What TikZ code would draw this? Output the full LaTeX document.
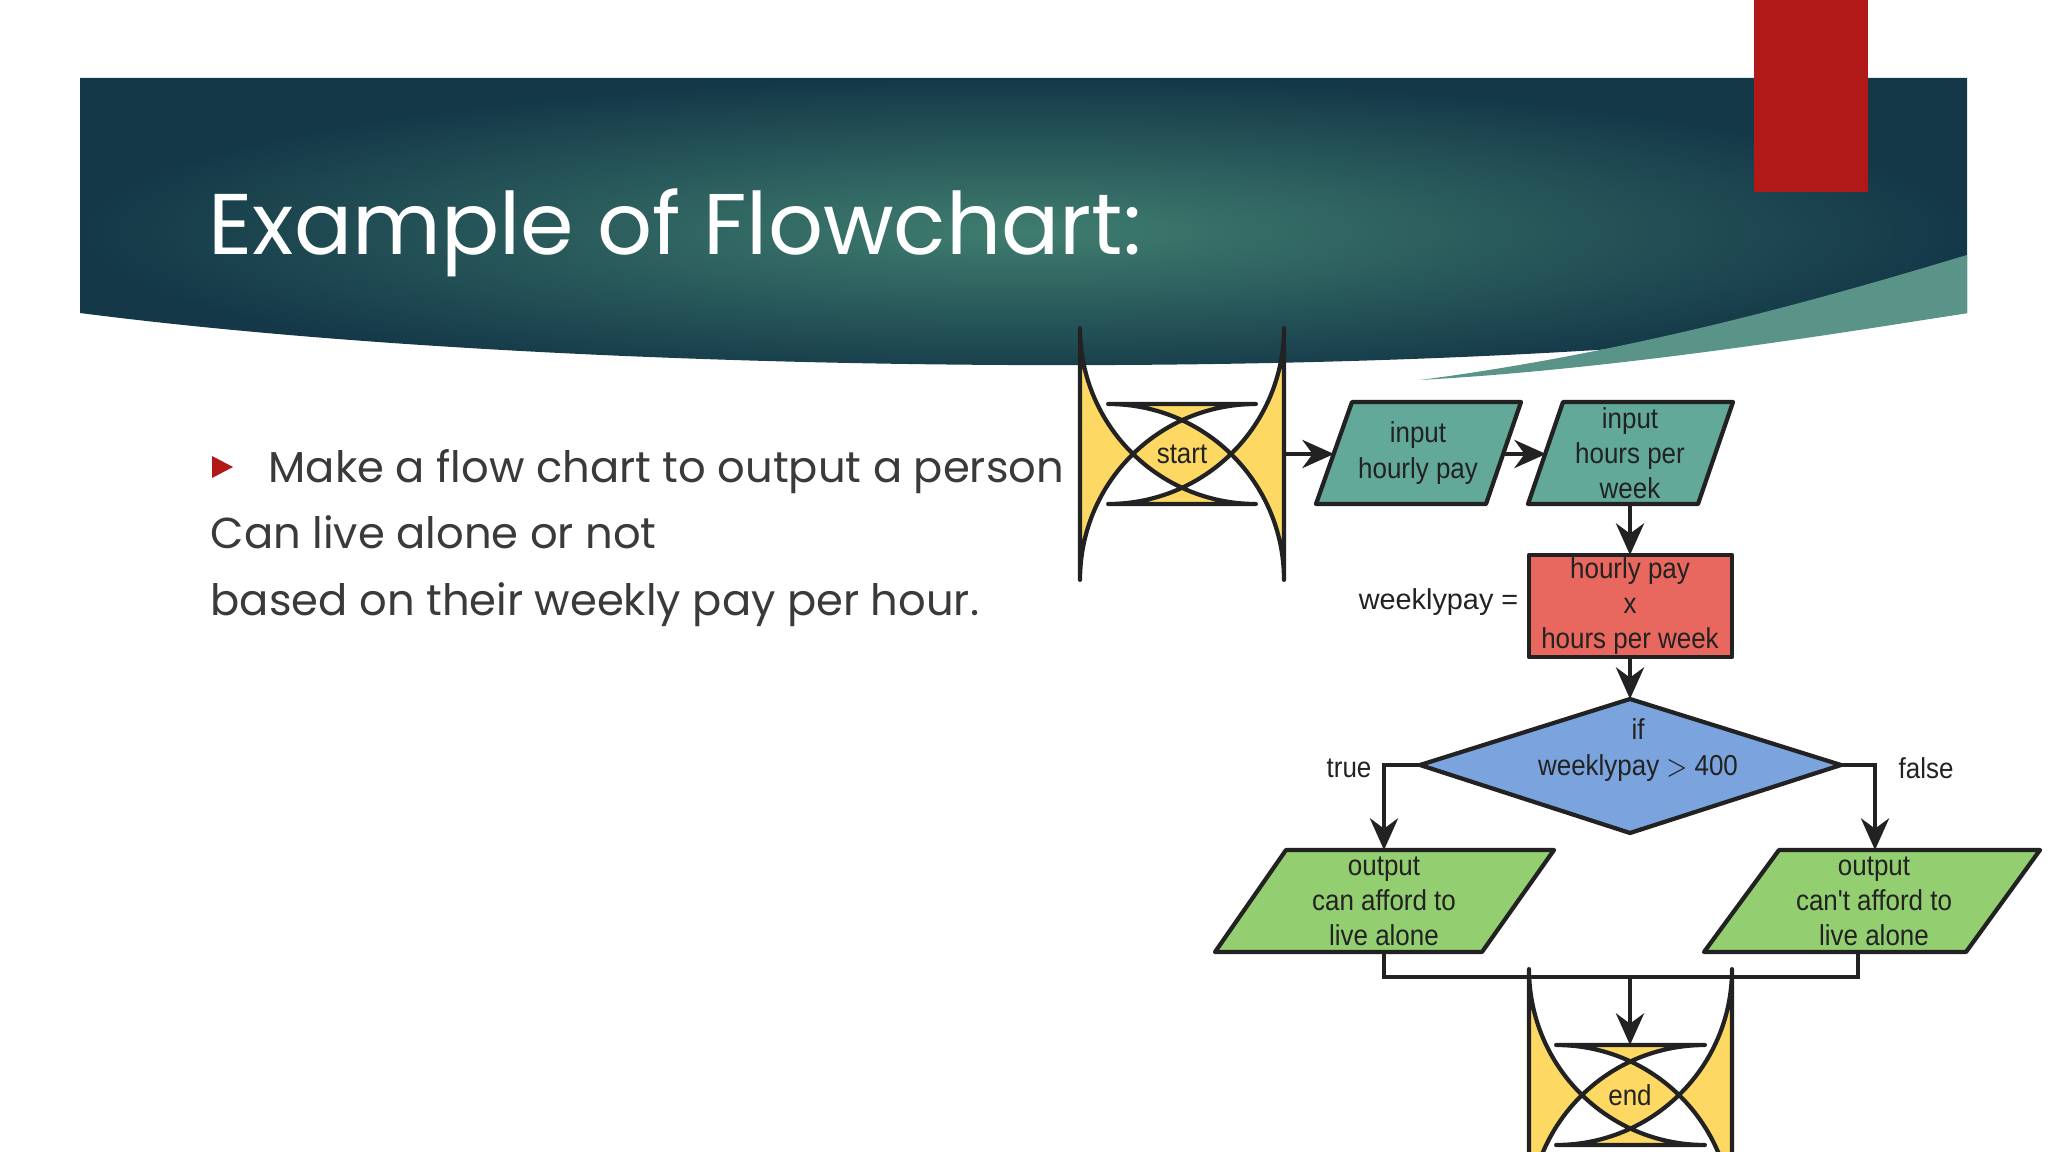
\documentclass[tikz,border=0pt]{standalone}
\usepackage{fontspec}
\setmainfont{Poppins}
\newfontfamily\fcfont{Liberation Sans}
\usetikzlibrary{arrows.meta}
\definecolor{bandA}{HTML}{3F7D6F}
\definecolor{bandB}{HTML}{143848}
\definecolor{swoosh}{HTML}{5A9488}
\definecolor{slidered}{HTML}{B01917}
\definecolor{tealbox}{HTML}{62A99A}
\definecolor{redbox}{HTML}{E8675F}
\definecolor{bluebox}{HTML}{7BA3DD}
\definecolor{greenbox}{HTML}{93CE70}
\definecolor{yellowbox}{HTML}{FDD964}
\definecolor{ink}{HTML}{222222}
\definecolor{bodytext}{HTML}{3A3A3A}
\tikzset{
  shp/.style={draw=ink, line width=1.2pt, line join=round},
  fctext/.style={font=\fcfont\fontsize{8.2}{10}\selectfont, text=ink, align=center, inner sep=0pt, xscale=0.9},
  conn/.style={draw=ink, line width=1.2pt, -{Stealth[length=9pt,width=8pt]}},
  plain/.style={draw=ink, line width=1.2pt},
  body/.style={font=\fontsize{12.3}{14}\selectfont, text=bodytext, anchor=base west, inner sep=0pt},
}
\begin{document}
\begin{tikzpicture}[x=0.01cm,y=-0.01cm]
\useasboundingbox (0,0) rectangle (2048,1152);
\fill[white] (0,0) rectangle (2048,1152);
% banner
\shade[inner color=bandA, outer color=bandB] (80,78) -- (1967,78) -- (1967,313) .. controls (1500,385) and (600,380) .. (80,313) -- cycle;
\fill[swoosh] (1967,255) -- (1967,313) .. controls (1800,340) and (1600,370) .. (1420,380) .. controls (1650,350) and (1850,290) .. (1967,255) -- cycle;
\fill[slidered] (1754,0) rectangle (1868,192);
\node[anchor=base west, text=white, font=\fontsize{24.5}{28}\selectfont, inner sep=0pt] (title) at (208,255) {Example of Flowchart:};
% bullet text
\fill[slidered] (212,456) -- (233,467) -- (212,478) -- cycle;
\node[body] (l1) at (268,482) {Make a flow chart to output a person};
\node[body] (l2) at (210,549) {Can live alone or not};
\node[body] (l3) at (210,616) {based on their weekly pay per hour.};
% flowchart shapes
\draw[shp, fill=yellowbox, rounded corners=50] (1080,404) rectangle (1284,504);
\node[fctext] (start) at (1182,454) {start};
\draw[shp, fill=tealbox] (1352,402) -- (1521,402) -- (1486,504) -- (1316,504) -- cycle;
\node[fctext] (in1) at (1418,453) {input\\hourly pay};
\draw[shp, fill=tealbox] (1563,402) -- (1733,402) -- (1698,504) -- (1528,504) -- cycle;
\node[fctext] (in2) at (1630,453) {input\\hours per\\week};
\draw[shp, fill=redbox] (1529,555) rectangle (1732,657);
\node[fctext] (calc) at (1630,606) {hourly pay\\x\\hours per week};
\node[anchor=east, font=\fcfont\fontsize{8.2}{10}\selectfont, text=ink, inner sep=0pt] (wp) at (1519,602) {weeklypay =};
\draw[shp, fill=bluebox] (1420,765) -- (1630,699) -- (1841,765) -- (1630,833) -- cycle;
\node[fctext] (dec) at (1638,750) {if\\weeklypay $>$ 400};
\draw[shp, fill=greenbox] (1286,850) -- (1554,850) -- (1482,952) -- (1215,952) -- cycle;
\node[fctext] (o1) at (1384,901) {output\\can afford to\\live alone};
\draw[shp, fill=greenbox] (1779,850) -- (2040,850) -- (1966,952) -- (1704,952) -- cycle;
\node[fctext] (o2) at (1874,901) {output\\can't afford to\\live alone};
\draw[shp, fill=yellowbox, rounded corners=50] (1529,1045) rectangle (1732,1145);
\node[fctext] (end) at (1630,1095) {end};
\node[fctext, anchor=east] (tl) at (1372,768) {true};
\node[fctext, anchor=west] (fl) at (1898,768) {false};
% connector coordinates
\coordinate (startR) at (1284,454);
\coordinate (in1L) at (1334,454);
\coordinate (in1R) at (1504,454);
\coordinate (in2L) at (1546,454);
\coordinate (in2B) at (1630,504);
\coordinate (calcT) at (1630,555);
\coordinate (calcB) at (1630,657);
\coordinate (decT) at (1630,699);
\coordinate (decL) at (1420,765);
\coordinate (decR) at (1841,765);
\coordinate (o1T) at (1384,850);
\coordinate (o2T) at (1875,850);
\coordinate (o1B) at (1384,952);
\coordinate (o2B) at (1858,952);
\coordinate (mrg) at (1630,977);
\coordinate (endT) at (1630,1045);
\draw[conn] (startR) -- (in1L);
\draw[conn] (in1R) -- (in2L);
\draw[conn] (in2B) -- (calcT);
\draw[conn] (calcB) -- (decT);
\draw[conn] (decL) -| (o1T);
\draw[conn] (decR) -| (o2T);
\draw[plain] (o1B) |- (mrg) -| (o2B);
\draw[conn] (mrg) -- (endT);
\end{tikzpicture}
\end{document}
